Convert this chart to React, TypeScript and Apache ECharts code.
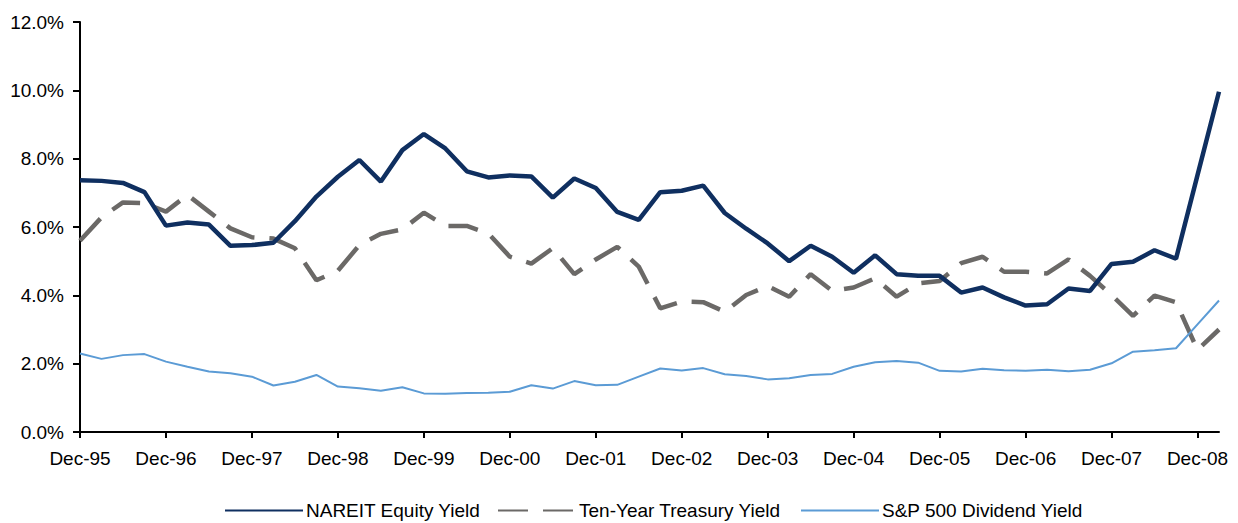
import React, { useEffect, useRef } from "react";
import * as echarts from "echarts";

const categories = [
  "Dec-95","Mar-96","Jun-96","Sep-96","Dec-96","Mar-97","Jun-97","Sep-97",
  "Dec-97","Mar-98","Jun-98","Sep-98","Dec-98","Mar-99","Jun-99","Sep-99",
  "Dec-99","Mar-00","Jun-00","Sep-00","Dec-00","Mar-01","Jun-01","Sep-01",
  "Dec-01","Mar-02","Jun-02","Sep-02","Dec-02","Mar-03","Jun-03","Sep-03",
  "Dec-03","Mar-04","Jun-04","Sep-04","Dec-04","Mar-05","Jun-05","Sep-05",
  "Dec-05","Mar-06","Jun-06","Sep-06","Dec-06","Mar-07","Jun-07","Sep-07",
  "Dec-07","Mar-08","Jun-08","Sep-08","Dec-08","Mar-09",
];

const nareitYield = [
  7.37, 7.35, 7.29, 7.02, 6.04, 6.13, 6.07, 5.45, 5.47, 5.54,
  6.17, 6.89, 7.47, 7.96, 7.33, 8.25, 8.72, 8.30, 7.63, 7.45,
  7.51, 7.48, 6.86, 7.42, 7.14, 6.44, 6.21, 7.02, 7.06, 7.21,
  6.41, 5.95, 5.52, 5.00, 5.45, 5.13, 4.66, 5.17, 4.62, 4.57,
  4.57, 4.08, 4.23, 3.94, 3.70, 3.74, 4.20, 4.13, 4.92, 4.98,
  5.32, 5.07, 7.52, 9.96,
];

const treasuryYield = [
  5.60, 6.28, 6.72, 6.70, 6.45, 6.94, 6.45, 5.96, 5.70, 5.66,
  5.38, 4.44, 4.72, 5.47, 5.80, 5.93, 6.42, 6.03, 6.03, 5.81,
  5.13, 4.93, 5.38, 4.62, 5.05, 5.42, 4.84, 3.62, 3.82, 3.80,
  3.52, 4.01, 4.27, 3.96, 4.62, 4.13, 4.23, 4.50, 3.96, 4.35,
  4.42, 4.94, 5.13, 4.69, 4.69, 4.64, 5.05, 4.57, 4.01, 3.40,
  3.99, 3.80, 2.40, 3.00,
];

const spDividendYield = [
  2.30, 2.14, 2.25, 2.28, 2.06, 1.91, 1.77, 1.72, 1.62, 1.36,
  1.47, 1.67, 1.33, 1.28, 1.21, 1.31, 1.13, 1.12, 1.14, 1.15,
  1.18, 1.37, 1.27, 1.49, 1.37, 1.38, 1.62, 1.86, 1.80, 1.87,
  1.69, 1.64, 1.54, 1.57, 1.67, 1.70, 1.91, 2.04, 2.08, 2.03,
  1.79, 1.77, 1.85, 1.81, 1.79, 1.82, 1.78, 1.82, 2.01, 2.35,
  2.39, 2.45, 3.15, 3.85,
];

const seriesNames = [
  "NAREIT Equity Yield",
  "Ten-Year Treasury Yield",
  "S&P 500 Dividend Yield",
];

const FONT = "'Liberation Sans', Arial, sans-serif";

const legendFor = (name: string, left: number) => ({
  data: [name],
  left,
  top: 496,
  itemWidth: 78,
  itemHeight: 14,
  itemStyle: { opacity: 0 },
  textStyle: { fontSize: 19, lineHeight: 19, color: "#000", fontFamily: FONT, padding: [0, 0, 0, -2] },
});

export default function App() {
  const ref = useRef<HTMLDivElement>(null);

  useEffect(() => {
    if (!ref.current) return;
    const chart = echarts.init(ref.current, null, { renderer: "svg" });
    chart.setOption({
      animation: false,
      backgroundColor: "#ffffff",
      textStyle: { fontFamily: FONT },
      grid: { left: 80, right: 19, top: 22, bottom: 91, containLabel: false },
      legend: [
        legendFor(seriesNames[0], 219),
        legendFor(seriesNames[1], 492),
        legendFor(seriesNames[2], 795),
      ],
      xAxis: {
        type: "category",
        data: categories,
        boundaryGap: false,
        axisLine: { lineStyle: { color: "#000", width: 2 } },
        axisTick: { interval: 3, length: 6, lineStyle: { color: "#000", width: 2 } },
        axisLabel: {
          interval: 3,
          fontSize: 19,
          color: "#000",
          fontFamily: FONT,
          margin: 17,
        },
        splitLine: { show: false },
      },
      yAxis: {
        type: "value",
        min: 0,
        max: 12,
        interval: 2,
        axisLine: { show: true, lineStyle: { color: "#000", width: 2 } },
        axisTick: { show: true, length: 7, lineStyle: { color: "#000", width: 2 } },
        axisLabel: {
          fontSize: 19,
          color: "#000",
          fontFamily: FONT,
          margin: 16,
          formatter: (v: number) => v.toFixed(1) + "%",
        },
        splitLine: { show: false },
      },
      series: [
        {
          name: seriesNames[0],
          type: "line",
          data: nareitYield,
          symbol: "none",
          lineStyle: { color: "#0f2f60", width: 4.5 },
          itemStyle: { color: "#0f2f60" },
          z: 3,
        },
        {
          name: seriesNames[1],
          type: "line",
          data: treasuryYield,
          symbol: "none",
          lineStyle: { color: "#6b6967", width: 4.5, type: [30, 15] },
          itemStyle: { color: "#6b6967" },
          z: 2,
        },
        {
          name: seriesNames[2],
          type: "line",
          data: spDividendYield,
          symbol: "none",
          lineStyle: { color: "#5b9bd5", width: 2 },
          itemStyle: { color: "#5b9bd5" },
          z: 4,
        },
      ],
    });
    return () => chart.dispose();
  }, []);

  return (
    <div
      ref={ref}
      style={{ position: "fixed", left: 0, top: 0, width: 1238, height: 523, background: "#fff" }}
    />
  );
}
